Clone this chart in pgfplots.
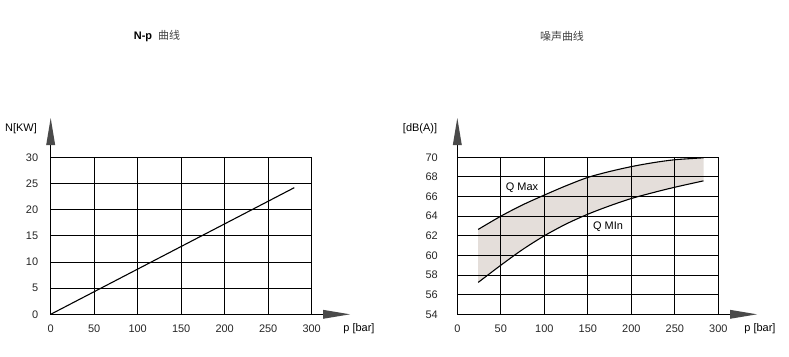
\documentclass[border=0pt]{standalone}
\usepackage{pgfplots}
\pgfplotsset{compat=1.18}
\usepackage{fontspec}
\setmainfont{Liberation Sans}
\newfontfamily\cjk{Noto Sans CJK SC}
\definecolor{bandfill}{HTML}{E4DEDA}
\definecolor{arrowgray}{HTML}{4A4A4A}
\begin{document}
\begin{tikzpicture}
\path[use as bounding box] (0bp,0bp) rectangle (789bp,-357bp);
\pgfplotsset{
  every axis/.append style={
    scale only axis, width=261bp, height=157bp,
    anchor=south west,
    xmin=0, xmax=300, xtick={0,50,...,300},
    grid=major, grid style={black, line width=0.9pt},
    axis line style={black, line width=0.9pt},
    major tick length=0pt,
    tick label style={font=\fontsize{11}{13}\selectfont, text=black!85},
    xticklabel style={yshift=-7bp},
    /pgf/number format/assume math mode=true,
    axis on top,
  }
}
% left chart
\begin{axis}[at={(50.7bp,-314.3bp)}, ymin=0, ymax=30, ytick={0,5,...,30},
  yticklabel style={xshift=-9bp}]
\addplot[black, line width=1.1pt] coordinates {(0,0) (280,24.2)};
\end{axis}
% right chart
\begin{axis}[at={(457.3bp,-314.3bp)}, ymin=54, ymax=70, ytick={54,56,...,70},
  yticklabel style={xshift=-16bp}]
\addplot[fill=bandfill, draw=none] coordinates {
 (24,62.65) (50,64.0) (75,65.15) (100,66.15) (125,67.1) (150,67.95) (175,68.55) (200,69.05) (225,69.45) (250,69.75) (283,69.95)
 (283,67.6) (250,66.95) (225,66.4) (200,65.8) (175,65.05) (150,64.2) (125,63.2) (100,62.0) (75,60.6) (50,59.0) (24,57.25)} -- cycle;
\addplot[black, line width=1.1pt, smooth] coordinates {
 (24,62.65) (50,64.0) (75,65.15) (100,66.15) (125,67.1) (150,67.95) (175,68.55) (200,69.05) (225,69.45) (250,69.75) (283,69.95)};
\addplot[black, line width=1.1pt, smooth] coordinates {
 (24,57.25) (50,59.0) (75,60.6) (100,62.0) (125,63.2) (150,64.2) (175,65.05) (200,65.8) (225,66.4) (250,66.95) (283,67.6)};
\end{axis}
% axis arrows
\foreach \ox in {50.7, 457.3}{
  \draw[black, line width=0.9pt] (\ox bp,-157.3bp) -- (\ox bp,-145bp);
  \fill[arrowgray] ({(\ox-4.5)*1bp},-145bp) -- ({(\ox+4.5)*1bp},-145bp) -- (\ox bp,-118bp) -- cycle;
}
\draw[black, line width=0.9pt] (311.7bp,-314.3bp) -- (323bp,-314.3bp);
\fill[arrowgray] (323bp,-309.8bp) -- (323bp,-318.8bp) -- (350bp,-314.3bp) -- cycle;
\draw[black, line width=0.9pt] (717.3bp,-314.3bp) -- (730bp,-314.3bp);
\fill[arrowgray] (730bp,-309.8bp) -- (730bp,-318.8bp) -- (757bp,-314.3bp) -- cycle;
% labels
\node[anchor=center, font=\fontsize{11}{13}\selectfont] at (21bp,-129bp) {N[KW]};
\node[anchor=center, font=\fontsize{11}{13}\selectfont] at (420bp,-129bp) {[dB(A)]};
\node[anchor=center, font=\fontsize{11}{13}\selectfont] at (359bp,-329bp) {p [bar]};
\node[anchor=center, font=\fontsize{11}{13}\selectfont] at (760bp,-329bp) {p [bar]};
\node[anchor=center, font=\fontsize{11}{13}\selectfont] at (522bp,-188bp) {Q Max};
\node[anchor=center, font=\fontsize{11}{13}\selectfont] at (608bp,-227bp) {Q MIn};
% titles
\node[anchor=center, font=\fontsize{11}{13}\selectfont] at (157bp,-36bp) {\textbf{N-p}\hspace{6bp}{\cjk\color{black!75}曲线}};
\node[anchor=center, font=\fontsize{11}{13}\selectfont] at (562bp,-36bp) {{\cjk\color{black!75}噪声曲线}};
\end{tikzpicture}
\end{document}
